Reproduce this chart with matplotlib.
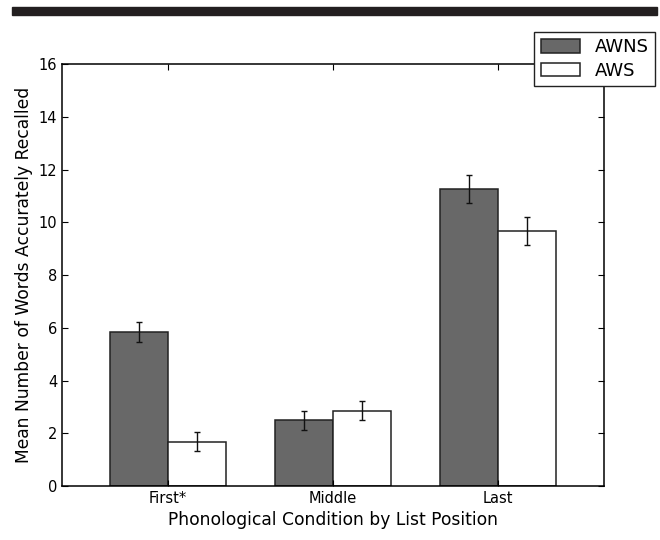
import numpy as np
import matplotlib
matplotlib.use('Agg')
import matplotlib.pyplot as plt
from matplotlib.patches import Rectangle

positions = ['First*', 'Middle', 'Last']
awns_mean = [5.85, 2.5, 11.25]
awns_err = [0.37, 0.36, 0.53]
aws_mean = [1.68, 2.85, 9.68]
aws_err = [0.36, 0.36, 0.53]

plt.rcParams['xtick.direction'] = 'in'
plt.rcParams['ytick.direction'] = 'in'
plt.rcParams['xtick.top'] = True
plt.rcParams['ytick.right'] = True
plt.rcParams['xtick.major.size'] = 4
plt.rcParams['ytick.major.size'] = 4
plt.rcParams['axes.linewidth'] = 1.1

fig = plt.figure(figsize=(6.6, 5.4), dpi=100)
ax = fig.add_axes([0.094, 0.1, 0.821, 0.781])

ind = np.arange(len(positions))
width = 0.35
ax.bar(ind - width / 2, awns_mean, width, color='#686868', edgecolor='#222222',
       linewidth=1.1, yerr=awns_err, capsize=2.5,
       error_kw=dict(ecolor='#111111', elinewidth=1, capthick=1), label='AWNS')
ax.bar(ind + width / 2, aws_mean, width, color='white', edgecolor='#222222',
       linewidth=1.1, yerr=aws_err, capsize=2.5,
       error_kw=dict(ecolor='#111111', elinewidth=1, capthick=1), label='AWS')

ax.set_xlim(-0.642, 2.642)
ax.set_ylim(0, 16)
ax.set_yticks(range(0, 17, 2))
ax.set_xticks(ind)
ax.set_xticklabels(positions)
ax.tick_params(labelsize=10.5)
ax.set_ylabel('Mean Number of Words Accurately Recalled', fontsize=12.3)
ax.set_xlabel('Phonological Condition by List Position', fontsize=12.3)

leg = fig.legend(loc='upper right', bbox_to_anchor=(655 / 660, 1 - 32 / 540), fontsize=13,
                 fancybox=False, framealpha=1, edgecolor='#222222', borderaxespad=0,
                 handlelength=2.2, handleheight=0.8, borderpad=0.35, labelspacing=0.3)
leg.get_frame().set_linewidth(1)

# thick rule along the top of the page
fig.patches.append(Rectangle((12 / 660, 1 - 15 / 540), 645 / 660, 8 / 540,
                             transform=fig.transFigure, color='#231f20', zorder=5))

fig.savefig('out.png', dpi=100)
